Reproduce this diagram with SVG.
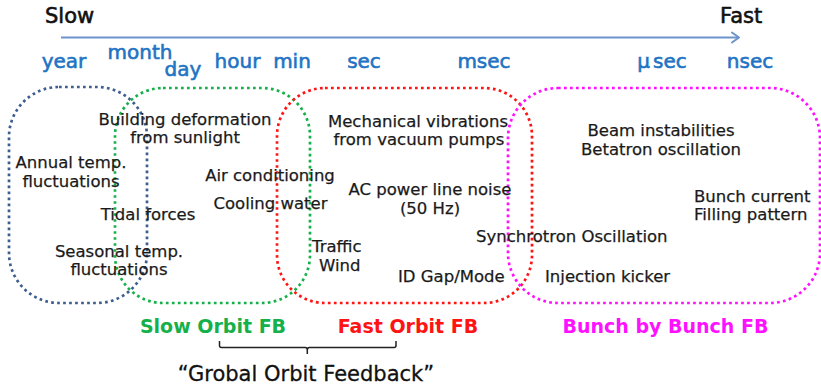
<svg xmlns="http://www.w3.org/2000/svg" width="821" height="388" viewBox="0 0 821 388">
  <defs>
    <marker id="chevron" markerWidth="14" markerHeight="14" refX="11" refY="7" orient="auto" markerUnits="userSpaceOnUse">
      <path d="M4,2 L11,7 L4,12" fill="none" stroke="#6b94cc" stroke-width="2" stroke-linecap="round" stroke-linejoin="round"/>
    </marker>
  </defs>
  <style>
    text { font-family: "DejaVu Sans", "Noto Sans", sans-serif; }
    .head { font-size: 21px; fill: #111; stroke: #111; stroke-width: 0.6; }
    .scale { font-size: 20px; fill: #1f74c4; stroke: #1f74c4; stroke-width: 0.6; text-anchor: middle; }
    .cause { font-size: 16.5px; fill: #1a1a1a; stroke: #1a1a1a; stroke-width: 0.25; }
    .mid { text-anchor: middle; }
    .fb { font-size: 19px; font-weight: bold; }
    .range { fill: none; stroke-width: 2.7; stroke-dasharray: 2.7 3.3; }
    .brace { fill: none; stroke: #222; stroke-width: 1.5; stroke-linejoin: round; }
  </style>

  <!-- time axis -->
  <g id="axis">
    <text class="head" x="45" y="22.5">Slow</text>
    <text class="head" x="720" y="22.5">Fast</text>
  </g>

  <g id="scale">
    <text class="scale" x="64" y="68">year</text>
    <text class="scale" x="140" y="59">month</text>
    <text class="scale" x="183" y="76">day</text>
    <text class="scale" x="237.5" y="68">hour</text>
    <text class="scale" x="292" y="68">min</text>
    <text class="scale" x="364" y="68">sec</text>
    <text class="scale" x="484" y="68">msec</text>
    <text class="scale" x="662" y="68">μ<tspan dx="3">sec</tspan></text>
    <text class="scale" x="750" y="68">nsec</text>
  </g>

  <!-- frequency ranges -->
  <g id="range-year">
    <rect class="range" stroke="#3d5e8e" x="9" y="87" width="138" height="216" rx="50"/>
  </g>
  <g id="range-slow-fb">
    <rect class="range" stroke="#16b04a" x="115" y="88" width="195" height="215" rx="48"/>
    <text class="fb mid" fill="#16b04a" x="213" y="333">Slow Orbit FB</text>
  </g>
  <g id="range-fast-fb">
    <rect class="range" stroke="#ff1414" x="277" y="88" width="255" height="215" rx="48"/>
    <text class="fb mid" fill="#ff1414" x="408" y="333">Fast Orbit FB</text>
  </g>
  <g id="range-bbb-fb">
    <rect class="range" stroke="#ff10ff" x="508" y="88" width="312" height="215" rx="50"/>
    <text class="fb mid" fill="#ff10ff" x="665.5" y="333">Bunch by Bunch FB</text>
  </g>

  <!-- sources of orbit motion -->
  <g id="building">
    <text class="cause mid" x="185" y="125">Building deformation</text>
    <text class="cause mid" x="185" y="143">from sunlight</text>
  </g>
  <g id="annual">
    <text class="cause mid" x="71" y="167.5">Annual temp.</text>
    <text class="cause mid" x="71" y="186.5">fluctuations</text>
  </g>
  <g id="tidal">
    <text class="cause mid" x="148" y="220">Tidal forces</text>
  </g>
  <g id="seasonal">
    <text class="cause mid" x="119" y="256.5">Seasonal temp.</text>
    <text class="cause mid" x="119" y="275">fluctuations</text>
  </g>
  <g id="air">
    <text class="cause mid" x="270" y="181">Air conditioning</text>
  </g>
  <g id="cooling">
    <text class="cause mid" x="270.5" y="209">Cooling water</text>
  </g>
  <g id="mechanical">
    <text class="cause mid" x="418" y="126.5">Mechanical vibrations</text>
    <text class="cause mid" x="419" y="144.5">from vacuum pumps</text>
  </g>
  <g id="ac-power">
    <text class="cause mid" x="430" y="195">AC power line noise</text>
    <text class="cause mid" x="430" y="213.5">(50 Hz)</text>
  </g>
  <g id="traffic">
    <text class="cause" x="312" y="251.5">Traffic</text>
    <text class="cause" x="319" y="271">Wind</text>
  </g>
  <g id="id-gap">
    <text class="cause" x="398" y="282">ID Gap/Mode</text>
  </g>
  <g id="synchrotron">
    <text class="cause" x="476" y="242">Synchrotron Oscillation</text>
  </g>
  <g id="injection">
    <text class="cause" x="545" y="282">Injection kicker</text>
  </g>
  <g id="beam">
    <text class="cause mid" x="661" y="136">Beam instabilities</text>
    <text class="cause mid" x="661" y="155">Betatron oscillation</text>
  </g>
  <g id="bunch">
    <text class="cause" x="694" y="201.5">Bunch current</text>
    <text class="cause" x="694" y="220">Filling pattern</text>
  </g>

  <!-- connectors: axis arrow and grouping brace -->
  <g id="connectors">
    <line x1="61" y1="37.5" x2="739" y2="37.5" stroke="#6b94cc" stroke-width="2" marker-end="url(#chevron)"/>
    <path class="brace" d="M219.5,341 V345.5 Q219.5,347.5 221.5,347.5 H305.3 Q307.3,347.5 307.3,350 V354 M307.3,350 Q307.3,347.5 309.3,347.5 H394 Q396,347.5 396,345.5 V341"/>
  </g>
  <g id="global-fb">
    <text class="mid" x="306" y="381" font-size="21" fill="#111" stroke="#111" stroke-width="0.3">“Grobal Orbit Feedback”</text>
  </g>
</svg>
